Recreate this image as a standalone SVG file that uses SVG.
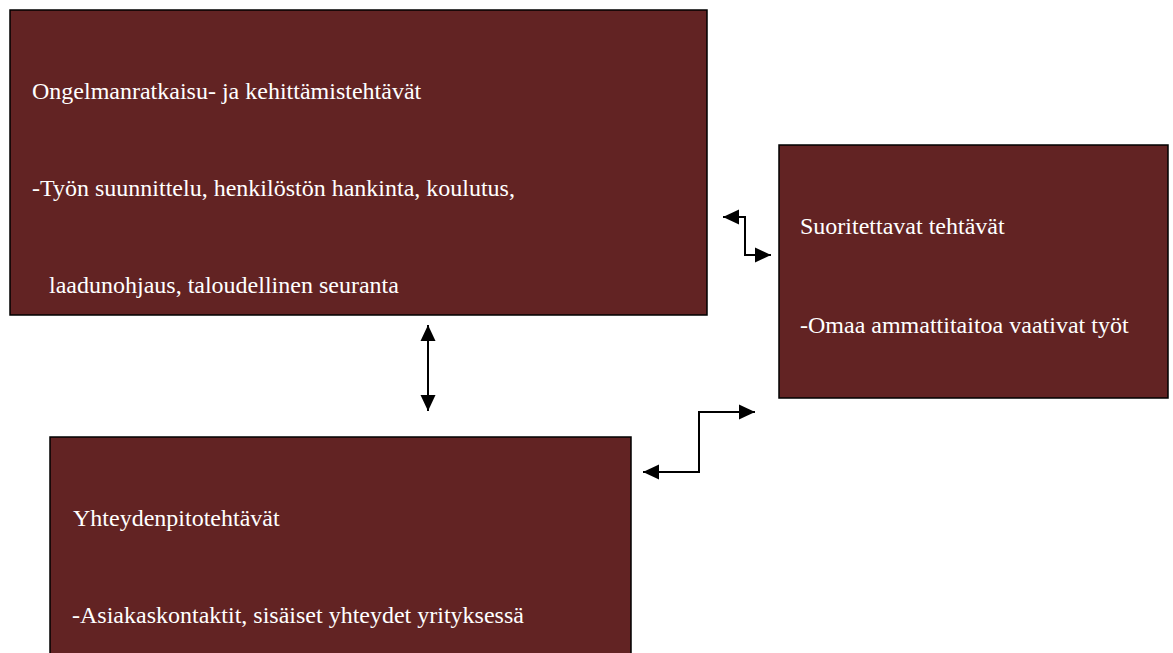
<svg xmlns="http://www.w3.org/2000/svg" width="1173" height="653" viewBox="0 0 1173 653">
<style>
.box{fill:#622323;stroke:#000;stroke-width:1.5}
.t{font-family:"Liberation Serif","Times New Roman",serif;font-size:24px;fill:#fff}
.c{fill:none;stroke:#000;stroke-width:2;marker-start:url(#ah);marker-end:url(#ah)}
</style>
<defs>
<marker id="ah" markerUnits="userSpaceOnUse" markerWidth="16" markerHeight="16" viewBox="0 0 16 16" refX="16" refY="8" orient="auto-start-reverse">
<path d="M0,0.5 L16,8 L0,15.5 z" fill="#000"/>
</marker>
</defs>
<rect width="1173" height="653" fill="#fff"/>
<g id="node-ongelmanratkaisu">
<rect class="box" x="10" y="10" width="697" height="305"/>
<text class="t" x="32" y="99">Ongelmanratkaisu- ja kehittämistehtävät</text>
<text class="t" x="32" y="196">-Työn suunnittelu, henkilöstön hankinta, koulutus,</text>
<text class="t" x="49" y="293">laadunohjaus, taloudellinen seuranta</text>
</g>
<g id="node-suoritettavat">
<rect class="box" x="779" y="145" width="389" height="253"/>
<text class="t" x="800" y="234">Suoritettavat tehtävät</text>
<text class="t" x="800" y="333">-Omaa ammattitaitoa vaativat työt</text>
</g>
<g id="node-yhteydenpito">
<rect class="box" x="50" y="437" width="581" height="230"/>
<text class="t" x="73" y="526">Yhteydenpitotehtävät</text>
<text class="t" x="72" y="623">-Asiakaskontaktit, sisäiset yhteydet yrityksessä</text>
</g>
<g id="connectors">
<path class="c" d="M428,325 L428,411"/>
<path class="c" d="M643,472 L699,472 L699,412 L755,412"/>
<path class="c" d="M723,217 L745,217 L745,255 L771,255"/>
</g>
</svg>
